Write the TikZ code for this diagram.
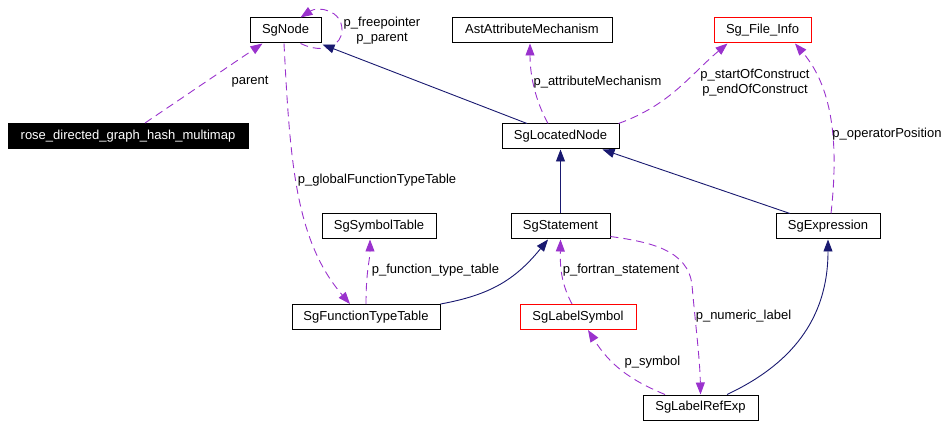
\documentclass[tikz,border=0pt]{standalone}
\usepackage{fontspec}
\setmainfont{Liberation Sans}
\usetikzlibrary{arrows.meta}
\definecolor{edgepurple}{HTML}{9A32CD}
\definecolor{edgenavy}{HTML}{191970}
\tikzset{
  cls/.style={draw=black, line width=1pt, minimum height=25pt, inner sep=0pt,
    font=\fontsize{13}{15}\selectfont, text height=9.5pt, text depth=2.8pt},
  redcls/.style={cls, draw=red},
  lbl/.style={inner sep=0pt, font=\fontsize{13}{15}\selectfont, align=center},
  uses/.style={draw=edgepurple, line width=0.9pt, dash pattern=on 8pt off 5pt,
    -{Triangle[length=12pt,width=9pt,fill=edgepurple]}},
  inherit/.style={draw=edgenavy, line width=0.9pt,
    -{Triangle[length=12pt,width=9pt,fill=edgenavy]}},
}
\begin{document}
\begin{tikzpicture}[x=1pt,y=-1pt]
\useasboundingbox (0,0) rectangle (947,427);
% nodes
\node[cls, minimum width=71pt] (SgNode) at (285.5,30.5) {SgNode};
\node[cls, minimum width=240pt, fill=black, text=white] (rose) at (128,136) {rose\_directed\_graph\_hash\_multimap};
\node[cls, minimum width=160pt] (Ast) at (532,30.5) {AstAttributeMechanism};
\node[redcls, minimum width=97pt] (FileInfo) at (762.5,30.5) {Sg\_File\_Info};
\node[cls, minimum width=117pt] (Located) at (560.5,136.5) {SgLocatedNode};
\node[cls, minimum width=114pt] (SymTab) at (379,226.5) {SgSymbolTable};
\node[cls, minimum width=99pt] (Stmt) at (560.5,226.5) {SgStatement};
\node[cls, minimum width=104pt] (Expr) at (828,226.5) {SgExpression};
\node[cls, minimum width=148pt] (FTT) at (366,317) {SgFunctionTypeTable};
\node[redcls, minimum width=116pt] (LabSym) at (578,317) {SgLabelSymbol};
\node[cls, minimum width=115pt] (LabRef) at (700.5,407.5) {SgLabelRefExp};
% edges
\draw[uses] ([xshift=17pt]rose.north) -- ([xshift=-23pt]SgNode.south);
\draw[uses] ([xshift=15pt]SgNode.south) .. controls (325,55) and (342,45) .. (342,30)
  .. controls (342,10) and (318,6) .. ([xshift=15pt]SgNode.north);
\draw[inherit] ([xshift=-33.5pt]Located.north) -- ([xshift=1pt,yshift=-1pt]SgNode.south east);
\draw[uses] ([xshift=-1.5pt]SgNode.south) .. controls (290,160) and (295,240) .. ([xshift=-16pt]FTT.north);
\draw[uses] ([xshift=-12.5pt]Located.north) .. controls (535,100) and (530,75) .. ([xshift=-2pt]Ast.south);
\draw[uses] ([xshift=-1pt]Located.north east) .. controls (670,105) and (690,75) .. ([xshift=-35pt]FileInfo.south);
\draw[inherit] (Stmt.north) -- (Located.south);
\draw[inherit] ([xshift=-38pt]Expr.north) -- ([xshift=42pt]Located.south);
\draw[uses] ([xshift=3pt]Expr.north) .. controls (838,150) and (835,90) .. ([xshift=32.5pt]FileInfo.south);
\draw[uses] (FTT.north) .. controls (366,270) and (370,260) .. ([xshift=-9pt]SymTab.south);
\draw[inherit] (FTT.north east) .. controls (490,295) and (515,280) .. ([xshift=-12.5pt]Stmt.south);
\draw[uses] ([xshift=-6pt]LabSym.north) .. controls (562,285) and (560,270) .. (Stmt.south);
\draw[uses] ([yshift=3pt]Stmt.south east) .. controls (650,242) and (688,250) .. (692,285)
  .. controls (695,320) and (700,360) .. (LabRef.north);
\draw[uses] ([xshift=-35.5pt]LabRef.north) .. controls (630,380) and (610,365) .. ([xshift=10pt]LabSym.south);
\draw[inherit] ([xshift=26.5pt]LabRef.north) .. controls (790,365) and (828,320) .. (Expr.south);
% labels
\node[lbl] (lparent) at (250,82) {parent};
\node[lbl] (lself) at (382,30.5) {p\_freepointer\\p\_parent};
\node[lbl] (lattr) at (597.5,82) {p\_attributeMechanism};
\node[lbl] (lstart) at (755,83) {p\_startOfConstruct\\p\_endOfConstruct};
\node[lbl] (lop) at (887,134) {p\_operatorPosition};
\node[lbl] (lglob) at (377,180) {p\_globalFunctionTypeTable};
\node[lbl] (lftt) at (435.5,270) {p\_function\_type\_table};
\node[lbl] (lfort) at (621,270) {p\_fortran\_statement};
\node[lbl] (lnum) at (743.5,316) {p\_numeric\_label};
\node[lbl] (lsym) at (652.5,362) {p\_symbol};
\end{tikzpicture}
\end{document}
